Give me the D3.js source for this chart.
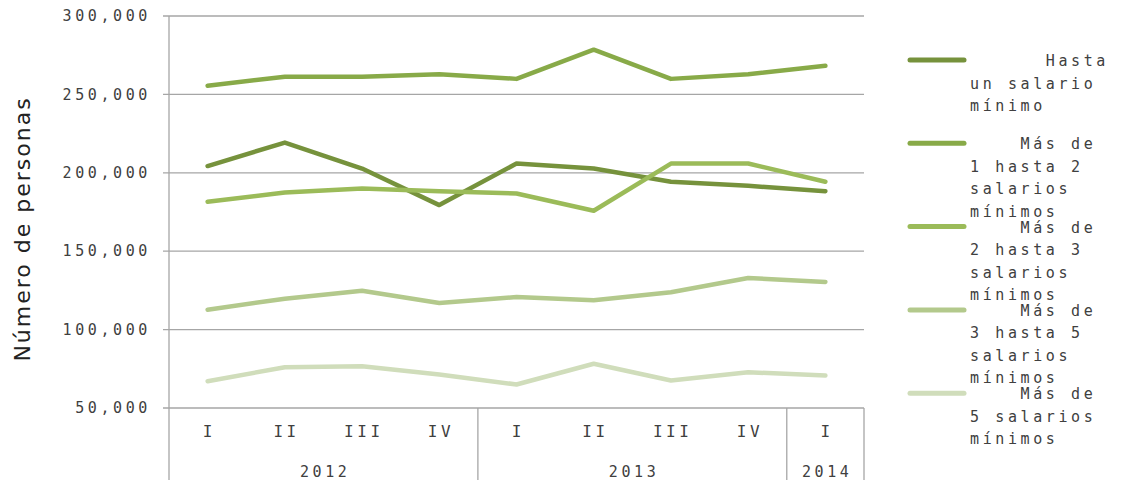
<html>
<head>
  <meta charset="utf-8">
  <script src="https://d3js.org/d3.v7.min.js"></script>
  <style>
    body { margin: 0; background: #fff; }
    .mono { font-family: "DejaVu Sans Mono", monospace; font-size: 15px; letter-spacing: 3.6px; fill: #404040; }
    .grid line { stroke: #a6a6a6; stroke-width: 1.3; }
    .series { fill: none; stroke-width: 4.5; stroke-linejoin: round; stroke-linecap: round; }
  </style>
</head>
<body>
<div id="chart"></div>
<script>
  var quarters = ["I", "II", "III", "IV", "I", "II", "III", "IV", "I"];
  var years = ["2012", "2013", "2014"];
  var yearSpan = [4, 4, 1];
  var yTicks = [50000, 100000, 150000, 200000, 250000, 300000];

  var hastaUno   = [204300, 219300, 202700, 179400, 205900, 202700, 194300, 191700, 188300];
  var unoADos    = [255500, 261300, 261300, 262900, 259900, 278500, 259900, 262900, 268200];
  var dosATres   = [181500, 187500, 190000, 188300, 186800, 175800, 205900, 205900, 194300];
  var tresACinco = [112700, 119700, 124800, 117000, 120800, 118700, 123800, 132900, 130400];
  var masDeCinco = [67100, 76000, 76600, 71300, 65000, 78200, 67500, 72800, 70700];

  var seriesNames = [
    ["      Hasta", "un salario", "mínimo"],
    ["    Más de", "1 hasta 2", "salarios", "mínimos"],
    ["    Más de", "2 hasta 3", "salarios", "mínimos"],
    ["    Más de", "3 hasta 5", "salarios", "mínimos"],
    ["    Más de", "5 salarios", "mínimos"]
  ];
  var seriesValues = [hastaUno, unoADos, dosATres, tresACinco, masDeCinco];
  var colors = ["#76923c", "#88aa48", "#9bbb59", "#b3c98c", "#d0ddbb"];

  var width = 1133, height = 480;
  var plotLeft = 169, plotRight = 864, plotTop = 16, plotBottom = 408;

  var svg = d3.select("#chart").append("svg")
      .attr("width", width)
      .attr("height", height);

  var x = d3.scaleBand()
      .domain(d3.range(quarters.length))
      .range([plotLeft, plotRight]);

  var y = d3.scaleLinear()
      .domain([50000, 300000])
      .range([plotBottom, plotTop]);

  // gridlines + ticks
  var grid = svg.append("g").attr("class", "grid");
  grid.selectAll("line.h")
      .data(yTicks)
      .enter().append("line")
      .attr("x1", plotLeft - 6)
      .attr("x2", plotRight)
      .attr("y1", function(d) { return y(d); })
      .attr("y2", function(d) { return y(d); });

  grid.append("line")
      .attr("x1", plotLeft).attr("x2", plotLeft)
      .attr("y1", plotTop).attr("y2", height);

  // year separators
  var bounds = [0];
  yearSpan.forEach(function(n) { bounds.push(bounds[bounds.length - 1] + n); });
  grid.selectAll("line.sep")
      .data(bounds.slice(1))
      .enter().append("line")
      .attr("x1", function(d) { return x(d - 1) + x.bandwidth(); })
      .attr("x2", function(d) { return x(d - 1) + x.bandwidth(); })
      .attr("y1", plotBottom)
      .attr("y2", height);

  svg.selectAll("text.ytick")
      .data(yTicks)
      .enter().append("text")
      .attr("class", "mono")
      .attr("x", 151)
      .attr("y", function(d) { return y(d); })
      .attr("dy", "0.35em")
      .attr("text-anchor", "end")
      .text(d3.format(","));

  svg.selectAll("text.q")
      .data(quarters)
      .enter().append("text")
      .attr("class", "mono")
      .attr("x", function(d, i) { return x(i) + x.bandwidth() / 2 + 1.8; })
      .attr("y", 437)
      .attr("text-anchor", "middle")
      .style("font-size", "16px")
      .text(function(d) { return d; });

  svg.selectAll("text.yr")
      .data(years)
      .enter().append("text")
      .attr("class", "mono")
      .attr("x", function(d, i) {
        return (x(bounds[i]) + x(bounds[i + 1] - 1) + x.bandwidth()) / 2 + 1.8;
      })
      .attr("y", 477)
      .attr("text-anchor", "middle")
      .text(function(d) { return d; });

  svg.append("text")
      .attr("transform", "translate(30,229) rotate(-90)")
      .attr("text-anchor", "middle")
      .style("font-family", "'DejaVu Sans', sans-serif")
      .style("font-size", "22px")
      .style("letter-spacing", "2px")
      .style("fill", "#222")
      .text("Número de personas");

  var line = d3.line()
      .x(function(d, i) { return x(i) + x.bandwidth() / 2; })
      .y(function(d) { return y(d); });

  svg.selectAll("path.series")
      .data(seriesValues)
      .enter().append("path")
      .attr("class", "series")
      .attr("stroke", function(d, i) { return colors[i]; })
      .attr("d", line);

  // legend
  var lg = svg.selectAll("g.legend")
      .data(seriesNames)
      .enter().append("g")
      .attr("transform", function(d, i) { return "translate(0," + (60 + i * 83.3) + ")"; });

  lg.append("line")
      .attr("x1", 910).attr("x2", 964)
      .attr("y1", 0).attr("y2", 0)
      .attr("stroke", function(d, i) { return colors[i]; })
      .attr("stroke-width", 5)
      .attr("stroke-linecap", "round");

  lg.selectAll("text")
      .data(function(d) { return d; })
      .enter().append("text")
      .attr("class", "mono")
      .attr("x", 970)
      .attr("y", function(d, i) { return 6 + i * 22.5; })
      .style("white-space", "pre")
      .attr("xml:space", "preserve")
      .text(function(d) { return d; });
</script>
</body>
</html>
